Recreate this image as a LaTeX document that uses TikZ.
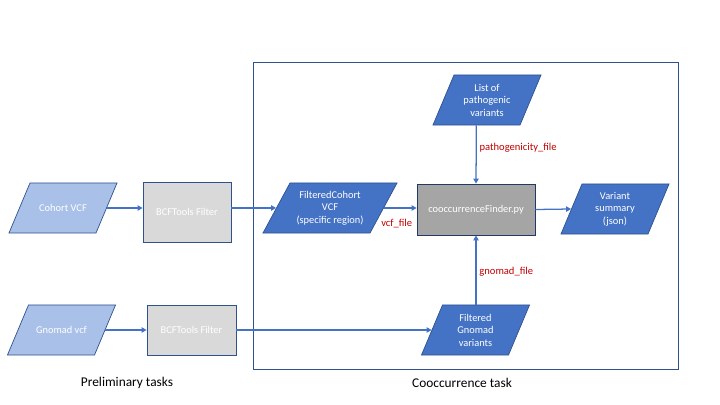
\documentclass[tikz,border=0pt]{standalone}
\usepackage{fontspec}
\setmainfont{Carlito}
\usetikzlibrary{positioning,arrows.meta}
\definecolor{accblue}{HTML}{4472C4}
\definecolor{darkblue}{HTML}{2F528F}
\definecolor{lightblue}{HTML}{A9C0E8}
\definecolor{lightgrey}{HTML}{D9D9D9}
\definecolor{midgrey}{HTML}{A5A5A5}
\definecolor{lblred}{HTML}{C00000}

\begin{document}
\begin{tikzpicture}[x=0.025cm,y=-0.025cm]
\tikzset{para/.style={rectangle,xslant=#1,draw=darkblue,line width=0.5pt,fill=accblue,
  minimum width=2.175cm,minimum height=1.25cm,inner sep=0pt},para/.default=0.42}
\tikzset{inpara/.style={para,fill=lightblue}}
\tikzset{ptxt/.style={text=white,align=center,inner sep=0pt,font=\fontsize{7.4}{8.9}\selectfont}}
\tikzset{tool/.style={rectangle,draw=darkblue,line width=0.5pt,fill=lightgrey,text=white,
  align=center,font=\fontsize{7.4}{8.9}\selectfont}}
\tikzset{flow/.style={draw=accblue,line width=0.9pt,-{Triangle[length=3.6pt,width=3.8pt]}}}
\tikzset{lbl/.style={text=lblred,font=\fontsize{7.5}{8.9}\selectfont,inner sep=2pt}}
\tikzset{task/.style={font=\fontsize{9.5}{11}\selectfont}}

\useasboundingbox (0,0) rectangle (720,405);

  % cooccurrence frame
  \draw[darkblue,line width=0.6pt] (253,62) rectangle (678,369);

  \node[inpara] (cohort) at (63,208) {};
  \node[ptxt] (cohort-t) at (cohort) {Cohort VCF};
  \node[inpara] (gnomad) at (61.5,330) {};
  \node[ptxt] (gnomad-t) at (gnomad) {Gnomad vcf};
  \node[tool,minimum width=2.2cm,minimum height=1.5cm] (bcfa) at (187,212) {BCFTools Filter};
  \node[tool,minimum width=2.225cm,minimum height=1.25cm] (bcfb) at (191.5,330) {BCFTools Filter};

  \node[para=0.54,minimum width=2.675cm] (fcohort) at (330,208) {};
  \node[ptxt] (fcohort-t) at (fcohort) {FilteredCohort\\VCF\\(specific region)};
  \node[tool,fill=midgrey,draw=darkblue!70!black,minimum width=2.95cm,minimum height=1.275cm] (finder) at (476,209.5) {cooccurrenceFinder.py};
  \node[para] (list) at (487,100) {};
  \node[ptxt] (list-t) at (list) {List of\\pathogenic\\variants};
  \node[para] (summary) at (615,209) {};
  \node[ptxt] (summary-t) at (summary) {Variant\\summary\\(json)};
  \node[para] (fgnomad) at (475.5,330) {};
  \node[ptxt] (fgnomad-t) at (fgnomad) {Filtered\\Gnomad\\variants};

  \draw[flow] (cohort) -- (cohort -| bcfa.west);
  \draw[flow] (bcfa.east |- fcohort) -- (fcohort.west);
  \draw[flow] (fcohort.east) -- (fcohort.east -| finder.west);
  \node[lbl,anchor=north west] (vcflbl) at ([xshift=-4pt,yshift=-6pt]fcohort.east) {vcf\_file};
  \draw[flow] (list.south) -- (finder.north)
    node[lbl,pos=0.39,right] {pathogenicity\_file};
  \draw[flow] (fgnomad.north -| finder.south) -- (finder.south)
    node[lbl,pos=0.47,right] {gnomad\_file};
  \draw[flow] (finder.east) -- (summary.west);
  \draw[flow] (gnomad) -- (bcfb);
  \draw[flow] (bcfb) -- (fgnomad.west);

  \node[task] (prelim) at (127,383) {Preliminary tasks};
  \node[task] (cotask) at (462,383) {Cooccurrence task};
\end{tikzpicture}
\end{document}
